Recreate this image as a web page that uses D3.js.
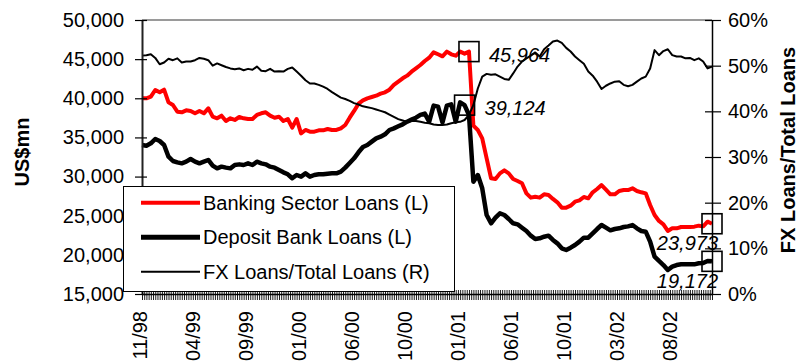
<!DOCTYPE html>
<html>
<head>
<meta charset="utf-8">
<script src="https://cdn.jsdelivr.net/npm/d3@7"></script>
<style>
  html, body { margin: 0; padding: 0; background: #fff; }
  svg { display: block; font-family: "Liberation Sans", Arial, Helvetica, sans-serif; }
</style>
</head>
<body>
<svg id="chart" width="799" height="363"></svg>
<script>
// Period labels shown on the category axis (one every `labelStep` observations)
const periodLabels = ["11/98", "04/99", "09/99", "01/00", "06/00", "10/00", "01/01", "06/01", "10/01", "03/02", "08/02"];
const labelStep = 12;

// Banking sector loans, US$ mn (left axis)
const bankingLoans = [
  39990, 39990, 40210, 41060, 40760, 41100, 39480, 39140, 38290, 38210,
  38460, 38380, 38080, 38380, 38080, 38720, 37650, 37440, 37780, 37100,
  37440, 37230, 37610, 37440, 37350, 37350, 37870, 38080, 38210, 37780,
  37520, 37650, 37100, 37350, 36250, 37350, 35520, 35950, 35740, 35740,
  35910, 35910, 36080, 35950, 35950, 36160, 36590, 37520, 38380, 39310,
  39740, 39990, 40160, 40330, 40590, 40760, 41100, 41700, 42120, 42550,
  42890, 43400, 43830, 44250, 44760, 45190, 45870, 45620, 45360, 45960,
  45620, 45440, 45960, 45700, 45964, 36500, 35950, 34880, 32330, 29780,
  29690, 30410, 30800, 30410, 29690, 29430, 29140, 27860, 27310, 27430,
  27310, 27730, 27650, 27140, 26710, 26030, 26030, 26280, 26790, 26960,
  27390, 27220, 27990, 28410, 28920, 28330, 27730, 27730, 28160, 28280,
  28280, 28500, 28160, 27990, 27860, 26370, 25090, 24330, 23900, 23050,
  23390, 23390, 23560, 23560, 23560, 23600, 23730, 23640, 24240, 23973
];

// Deposit bank loans, US$ mn (left axis)
const depositLoans = [
  34030, 33950, 34250, 34800, 34540, 34030, 32540, 31990, 31820, 31690,
  31900, 32240, 31900, 31690, 31900, 32120, 31390, 31050, 31270, 31140,
  31050, 31480, 31560, 31480, 31690, 31480, 31900, 31690, 31560, 31270,
  31140, 30840, 30540, 30290, 29780, 30200, 29990, 30410, 29990, 30200,
  30290, 30290, 30370, 30410, 30410, 30630, 31140, 31730, 32330, 33100,
  33780, 34030, 34460, 34880, 35100, 35400, 35950, 36160, 36420, 36670,
  37010, 37270, 37520, 37870, 38040, 37010, 39060, 38930, 36930, 39060,
  39230, 37010, 39480, 39124, 37870, 29350, 30200, 28500, 25090, 24030,
  24750, 25300, 25090, 24580, 24030, 23900, 23470, 23050, 22450, 22030,
  22110, 22320, 22450, 21900, 21470, 20830, 20620, 20920, 21260, 21690,
  22200, 22200, 22750, 23300, 23810, 23470, 23130, 23300, 23390, 23560,
  23640, 23810, 23390, 23050, 22960, 21690, 19770, 19220, 18700, 18070,
  18490, 18700, 18790, 18790, 18790, 18790, 18920, 18960, 19220, 19172
];

// FX-linked loans as a share of total loans, % (right axis)
const fxShare = [
  52.2, 52.3, 52.5, 51.7, 50.3, 50.7, 51.5, 51.2, 51.6, 50.7,
  50.9, 50.9, 51.2, 51.7, 51.5, 51.2, 50.0, 50.5, 50.1, 49.7,
  49.4, 49.2, 49.4, 49.0, 49.3, 49.1, 49.8, 48.9, 48.8, 49.3,
  48.7, 48.8, 48.7, 49.3, 49.6, 48.7, 47.8, 46.8, 46.1, 46.1,
  45.8, 45.4, 44.9, 44.2, 43.6, 43.0, 42.7, 42.3, 41.8, 41.5,
  41.1, 40.9, 40.7, 40.4, 40.1, 39.8, 39.3, 38.8, 38.3, 38.0,
  37.7, 37.9, 37.9, 37.7, 37.5, 37.4, 37.1, 37.0, 37.0, 37.1,
  37.4, 37.6, 37.7, 38.1, 39.2, 41.4, 45.0, 47.6, 48.2, 48.0,
  48.1, 47.6, 47.1, 46.9, 48.3, 49.8, 50.9, 51.6, 52.2, 52.9,
  52.0, 53.6, 54.4, 55.3, 55.5, 55.0, 53.9, 53.1, 52.0, 51.2,
  50.4, 48.7, 47.8, 46.5, 44.9, 45.6, 46.1, 46.5, 46.6, 45.8,
  45.5, 45.8, 46.5, 47.2, 47.6, 49.4, 53.4, 52.3, 53.2, 53.6,
  52.3, 52.0, 52.0, 51.6, 51.7, 51.2, 51.6, 50.9, 49.4, 49.8
];

const leftTicks = [15000, 20000, 25000, 30000, 35000, 40000, 45000, 50000];
const rightTicks = [0, 10, 20, 30, 40, 50, 60];

const seriesNames = ["Banking Sector Loans (L)", "Deposit Bank Loans (L)", "FX Loans/Total Loans (R)"];

// Highlighted observations (series key + observation index)
const callouts = [
  { series: "banking", index: 74 },
  { series: "deposit", index: 73 },
  { series: "banking", index: 129 },
  { series: "deposit", index: 129 }
];

// ---------------------------------------------------------------
const svg = d3.select("#chart");
const plot = { left: 142, right: 712, top: 20, bottom: 294 };
const n = bankingLoans.length;

const x = d3.scaleLinear().domain([0, n - 1]).range([plot.left, plot.right]);
const yL = d3.scaleLinear().domain([15000, 50000]).range([plot.bottom, plot.top]);
const yR = d3.scaleLinear().domain([0, 60]).range([plot.bottom, plot.top]);

svg.append("rect").attr("width", 799).attr("height", 363).attr("fill", "#fff");

// top edge of the plot area
svg.append("line")
  .attr("x1", plot.left).attr("x2", plot.right)
  .attr("y1", plot.top).attr("y2", plot.top)
  .attr("stroke", "#9a9a9a").attr("stroke-width", 2);

// ---- series
const seriesDefs = {
  banking: { data: bankingLoans, scale: yL, color: "#ff0000", width: 4 },
  deposit: { data: depositLoans, scale: yL, color: "#000000", width: 4.5 },
  fx:      { data: fxShare,      scale: yR, color: "#000000", width: 2 }
};

["banking", "deposit", "fx"].forEach(key => {
  const s = seriesDefs[key];
  const gen = d3.line().x((d, i) => x(i)).y(d => s.scale(d));
  svg.append("path")
    .datum(s.data)
    .attr("d", gen)
    .attr("fill", "none")
    .attr("stroke", s.color)
    .attr("stroke-width", s.width)
    .attr("stroke-linejoin", "round")
    .attr("stroke-linecap", "butt");
});

// ---- axes
const styleAxisText = g => g.selectAll("text")
  .attr("font-size", 20)
  .attr("font-family", "'Liberation Sans', Arial, sans-serif")
  .attr("fill", "#000");

const gL = svg.append("g")
  .attr("transform", `translate(${plot.left},0)`)
  .call(d3.axisLeft(yL).tickValues(leftTicks).tickFormat(d3.format(","))
    .tickSize(7).tickSizeOuter(0).tickPadding(11));
gL.select(".domain").attr("stroke", "#222").attr("stroke-width", 2);
gL.selectAll(".tick line").attr("x1", 5).attr("stroke", "#000").attr("stroke-width", 1.2);
styleAxisText(gL);

const gR = svg.append("g")
  .attr("transform", `translate(${plot.right},0)`)
  .call(d3.axisRight(yR).tickValues(rightTicks).tickFormat(d => d + "%")
    .tickSize(9).tickSizeOuter(0).tickPadding(7));
gR.select(".domain").attr("stroke", "#000").attr("stroke-width", 1.5);
gR.selectAll(".tick line").attr("x1", -7).attr("stroke", "#000").attr("stroke-width", 1.2);
styleAxisText(gR);

// category axis: one minor tick per half observation
const gX = svg.append("g")
  .attr("transform", `translate(0,${plot.bottom})`)
  .call(d3.axisBottom(x).tickValues(d3.range(0, n - 0.5, 0.5)).tickFormat("")
    .tickSize(6).tickSizeOuter(0));
gX.select(".domain").attr("stroke", "#000").attr("stroke-width", 1.5);
gX.selectAll(".tick line").attr("y1", -4).attr("stroke", "#000").attr("stroke-width", 0.9);

// rotated period labels
svg.append("g").selectAll("text")
  .data(periodLabels)
  .join("text")
  .attr("transform", (d, i) => `translate(${x(i * labelStep) - 2.5},311) rotate(-90)`)
  .attr("dy", "0.35em")
  .attr("text-anchor", "end")
  .attr("font-size", 20)
  .attr("fill", "#000")
  .text(d => d);

// axis titles
svg.append("text")
  .attr("transform", "translate(29,152) rotate(-90)")
  .attr("text-anchor", "middle")
  .attr("font-size", 20).attr("font-weight", "bold")
  .text("US$mn");

svg.append("text")
  .attr("transform", "translate(795,150) rotate(-90)")
  .attr("text-anchor", "middle")
  .attr("font-size", 20).attr("font-weight", "bold")
  .text("FX Loans/Total Loans");

// ---- highlighted observations
const fmt = d3.format(",");
const cg = svg.append("g");
callouts.forEach(c => {
  const s = seriesDefs[c.series];
  const v = s.data[c.index];
  const px = x(c.index), py = s.scale(v);
  cg.append("rect")
    .attr("x", px - 10).attr("y", py - 10)
    .attr("width", 20).attr("height", 20)
    .attr("fill", "none").attr("stroke", "#000").attr("stroke-width", 1.6);
  const atEnd = c.index === n - 1;
  cg.append("text")
    .attr("x", atEnd ? px + 6 : px + 20)
    .attr("y", atEnd ? py + 19.5 : py + 3)
    .attr("dy", "0.35em")
    .attr("text-anchor", atEnd ? "end" : "start")
    .attr("font-size", 20).attr("font-style", "italic")
    .attr("fill", "#000")
    .text(fmt(v));
});

// ---- legend
const lg = svg.append("g");
lg.append("rect")
  .attr("x", 123.5).attr("y", 186.5).attr("width", 331).attr("height", 105)
  .attr("fill", "#fff").attr("stroke", "#000").attr("stroke-width", 1);
const legendKeys = ["banking", "deposit", "fx"];
const legendWidths = { banking: 4, deposit: 5, fx: 2 };
legendKeys.forEach((k, i) => {
  const yy = 202.7 + i * 34.5;
  lg.append("line")
    .attr("x1", 141).attr("x2", 200).attr("y1", yy).attr("y2", yy)
    .attr("stroke", seriesDefs[k].color).attr("stroke-width", legendWidths[k]);
  lg.append("text")
    .attr("x", 203).attr("y", yy).attr("dy", "0.35em")
    .attr("font-size", 20).attr("fill", "#000")
    .text(seriesNames[i]);
});
</script>
</body>
</html>
